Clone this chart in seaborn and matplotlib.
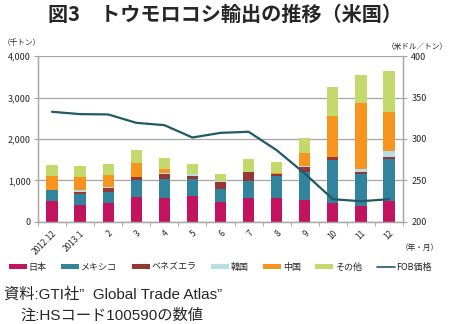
import numpy as np
import pandas as pd
import matplotlib
matplotlib.use("Agg")
import matplotlib.pyplot as plt
import seaborn as sns
from matplotlib.patches import Patch
from matplotlib.lines import Line2D
from matplotlib.ticker import FuncFormatter, FixedLocator

sns.set_style("white")
plt.rcParams['font.family'] = ['Noto Sans CJK JP', 'DejaVu Sans']

# ---- data ----
months = ["2012.12", "2013.1", "2", "3", "4", "5", "6", "7", "8", "9", "10", "11", "12"]
japan = [507, 402, 459, 604, 579, 620, 483, 579, 579, 539, 451, 394, 507]
mexico = [258, 282, 265, 418, 459, 426, 314, 403, 540, 668, 1038, 773, 1006]
venezuela = [10, 48, 105, 65, 129, 73, 177, 217, 40, 129, 72, 32, 64]
korea = [5, 48, 5, 5, 10, 48, 5, 0, 5, 16, 10, 89, 137]
china = [330, 307, 304, 328, 103, 0, 0, 0, 10, 322, 988, 1585, 942]
other = [275, 273, 265, 321, 273, 233, 185, 330, 274, 362, 693, 660, 990]
fob = [332.8, 330.0, 329.6, 319.5, 316.7, 301.8, 307.4, 308.7, 286.5, 258.4, 227.4, 225.0, 227.4]

series_names = ["日本", "メキシコ", "ベネズエラ", "韓国", "中国", "その他"]
series_vals = [japan, mexico, venezuela, korea, china, other]
colors = ["#C2135F", "#31849B", "#953735", "#B7DEE8", "#F7941E", "#C4D96B"]
line_color = "#215967"

df = pd.DataFrame({"month": months})
cum = np.zeros(len(months))
cum_cols = []
for name, vals in zip(series_names, series_vals):
    cum = cum + np.array(vals, dtype=float)
    df[name] = cum.copy()
    cum_cols.append(name)

fig = plt.figure(figsize=(4.5, 3.24), dpi=100)
ax = fig.add_axes([0.0844, 0.315, 0.8112, 0.512])

# draw stacked bars: largest cumulative first
for name, col in reversed(list(zip(cum_cols, colors))):
    sns.barplot(data=df, x="month", y=name, color=col, width=0.4,
                saturation=1, ax=ax, order=months, edgecolor="none")

ax.set_ylim(0, 4000)
ax.set_xlim(-0.5, len(months) - 0.5)
ax.yaxis.set_major_locator(FixedLocator([0, 1000, 2000, 3000, 4000]))
ax.yaxis.set_major_formatter(FuncFormatter(lambda v, p: f"{int(v):,}"))
ax.grid(axis="y", color="#A6A6A6", linewidth=0.9)
ax.set_axisbelow(True)
ax.set_xlabel("")
ax.set_ylabel("")

ax2 = ax.twinx()
sns.lineplot(x=np.arange(len(months)), y=fob, color=line_color, linewidth=1.6, ax=ax2)
ax2.set_ylim(200, 400)
ax2.yaxis.set_major_locator(FixedLocator([200, 250, 300, 350, 400]))
ax2.set_xlim(-0.5, len(months) - 0.5)

# x ticks: labels at centers, tick marks at boundaries
ax.set_xticks(np.arange(len(months)))
ax.set_xticklabels(months, rotation=45, ha="right", rotation_mode="anchor", fontsize=6)
ax.set_xticks(np.arange(-0.5, len(months)), minor=True)
ax.tick_params(axis="x", which="major", length=0, pad=5)
ax.tick_params(axis="x", which="minor", length=3, color="#A6A6A6", direction="out", bottom=True)
ax.tick_params(axis="y", labelsize=6.5, length=3, color="#A6A6A6", direction="out", left=True, pad=2)
ax2.tick_params(axis="y", labelsize=6.5, length=3, color="#A6A6A6", direction="out", right=True, pad=3)

for a in (ax, ax2):
    a.spines["top"].set_visible(False)
    for s in ["left", "right", "bottom"]:
        a.spines[s].set_color("#A6A6A6")
        a.spines[s].set_linewidth(0.9)

# texts
fig.text(0.5, 0.955, "図3　トウモロコシ輸出の推移（米国）", ha="center", va="center",
         fontsize=14.5, fontweight="bold")
fig.text(0.005, 0.866, "（千トン）", ha="left", va="center", fontsize=5.5)
fig.text(0.995, 0.856, "（米ドル／トン）", ha="right", va="center", fontsize=5.5)
fig.text(0.975, 0.235, "（年・月）", ha="right", va="center", fontsize=5.5)

handles = [Patch(facecolor=c, edgecolor="none") for c in colors]
handles.append(Line2D([0], [0], color=line_color, linewidth=1.2))
labels = series_names + ["FOB価格"]
fig.legend(handles, labels, loc="center", bbox_to_anchor=(0.49, 0.175), ncol=7,
           frameon=False, fontsize=6.5, handlelength=2.0, handleheight=0.5,
           handletextpad=0.2, columnspacing=1.6)

note_family = ['Liberation Sans', 'Noto Sans CJK JP']
fig.text(0.01, 0.0926, "資料:GTI社”  Global Trade Atlas”", ha="left", va="center",
         fontsize=11, family=note_family)
fig.text(0.045, 0.026, "注:HSコード100590の数値", ha="left", va="center",
         fontsize=11, family=note_family)

fig.savefig("out.png", dpi=100)
